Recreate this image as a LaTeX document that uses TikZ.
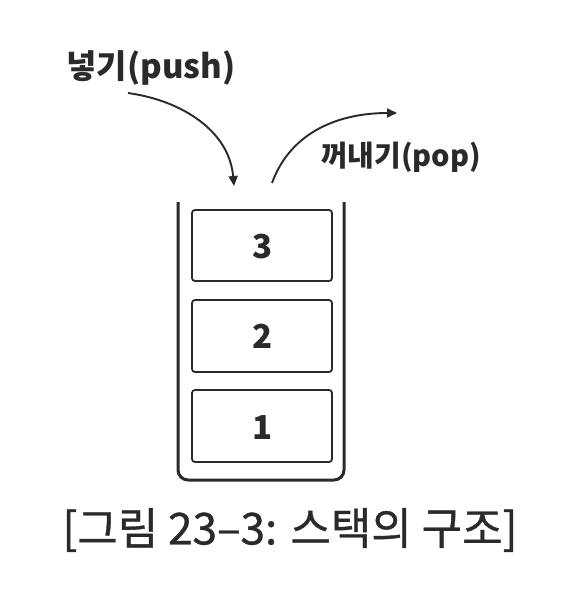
\documentclass[tikz,border=0pt]{standalone}
\usepackage{fontspec}
\setmainfont{Liberation Sans}
\newfontfamily\kr{Noto Sans CJK KR}
\newfontfamily\krcap[FakeBold=0.8]{Noto Sans CJK KR}
\usetikzlibrary{arrows.meta}
\definecolor{ink}{HTML}{2A2A2A}
\begin{document}
\begin{tikzpicture}[x=1pt,y=-1pt,
  itembox/.style={draw=ink,line width=1.8pt,rounded corners=3pt},
  num/.style={font=\kr\fontsize{33}{33}\selectfont\bfseries,text=ink},
  lbl/.style={text=ink,inner sep=0pt},
  curve/.style={draw=ink,line width=1.9pt,-{Triangle[length=10pt,width=9pt]}}]
\useasboundingbox (0,0) rectangle (577,591);
\fill[white] (0,0) rectangle (577,591);
% container
\draw[ink,line width=3pt,rounded corners=10pt] (178,202) -- (178,480) -- (344,480) -- (344,202);
% items
\draw[itembox] (192,210) rectangle (332,281);
\draw[itembox] (192,300) rectangle (332,372);
\draw[itembox] (192,390) rectangle (332,462);
\node[num] (n3) at (263,247) {3};
\node[num] (n2) at (263,336) {2};
\node[num] (n1) at (263,428) {1};
% labels
\node[lbl,font=\kr\fontsize{33}{33}\selectfont\bfseries] (push) at (151,68) {넣기(push)};
\node[lbl,font=\kr\fontsize{29}{29}\selectfont\bfseries] (pop) at (401,157) {꺼내기(pop)};
\coordinate (ps) at (128,93);
\coordinate (pe) at (234,186);
\coordinate (os) at (272,183);
\coordinate (oe) at (397,113);
\draw[curve] (ps) to[out=-8,in=95] (pe);
\draw[curve] (os) to[out=70,in=180] (oe);
% caption
\node[lbl,font=\krcap\fontsize{44}{44}\selectfont] (cap) at (290,530) {[그림 23–3: 스택의 구조]};
\end{tikzpicture}
\end{document}
